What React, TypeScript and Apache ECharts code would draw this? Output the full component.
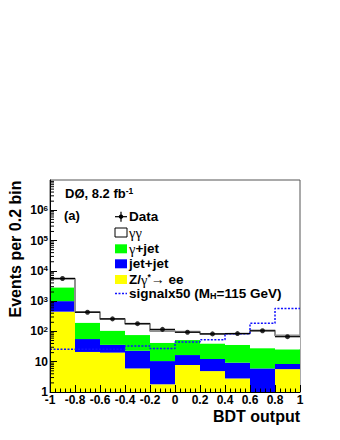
import React, { useEffect, useRef } from "react";
import * as echarts from "echarts";

const binEdges = [-1, -0.8, -0.6, -0.4, -0.2, 0, 0.2, 0.4, 0.6, 0.8, 1];
const zee = [450, 21, 20, 6, 1.8, 7.8, 4.9, 2.8, 0.8, 5.7];
const jetjet = [550, 35, 16, 17, 8.7, 8.8, 7.4, 6.5, 5.2, 2.7];
const gammaJet = [1850, 138, 70, 53, 31.5, 35.4, 27.7, 26.7, 22, 17.3];
const diphoton = [2650, 246, 149, 102, 61, 45, 42, 50, 80, 48];
const dataCounts = [5600, 430, 260, 180, 117, 94, 83, 85, 105, 67];
const signal50 = [26, 26, 26, 33, 27.5, 45, 53, 84, 185, 576];

const yMin = 1;
const yMax = 1e7;

const FONT = "'Liberation Sans', Arial, Helvetica, sans-serif";
const SERIF = "'Liberation Serif', 'Times New Roman', serif";

export default function App() {
  const ref = useRef<HTMLDivElement>(null);

  useEffect(() => {
    if (!ref.current) return;
    const chart = echarts.init(ref.current, undefined, { renderer: "svg" });

    const layers = [
      { name: "Z/γ*→ee", values: zee, color: "#ffff00" },
      { name: "jet+jet", values: jetjet, color: "#0000ff" },
      { name: "γ+jet", values: gammaJet, color: "#00ff00" },
      { name: "γγ", values: diphoton, color: "#ffffff" },
    ];
    const nBins = binEdges.length - 1;
    const cum = new Array(nBins).fill(0);
    const layerSeries: any[] = layers.map((layer) => {
      const items = [] as number[][];
      for (let i = 0; i < nBins; i++) {
        const lo = cum[i] === 0 ? yMin : cum[i];
        cum[i] += layer.values[i];
        items.push([binEdges[i], binEdges[i + 1], lo, cum[i]]);
      }
      return {
        type: "custom",
        name: layer.name,
        clip: true,
        z: 2,
        encode: { x: [0, 1], y: [2, 3] },
        data: items,
        renderItem: (params: any, api: any) => {
          const lo = Math.max(api.value(2), yMin);
          const hi = Math.max(api.value(3), yMin);
          const p0 = api.coord([api.value(0), hi]);
          const p1 = api.coord([api.value(1), lo]);
          return {
            type: "rect",
            shape: { x: p0[0], y: p0[1], width: p1[0] - p0[0], height: p1[1] - p0[1] },
            style: { fill: layer.color },
          };
        },
      };
    });

    const total = cum.slice();
    const stepData = (vals: number[]) => {
      const pts = vals.map((v, i) => [binEdges[i], v]);
      pts.push([binEdges[nBins], vals[nBins - 1]]);
      return pts;
    };

    const minorY: number[][] = [];
    for (let k = 0; k < 7; k++) {
      for (let m = 2; m <= 9; m++) minorY.push([binEdges[0], m * Math.pow(10, k)]);
    }

    const centers = dataCounts.map((v, i) => [(binEdges[i] + binEdges[i + 1]) / 2, v]);
    const dataBars = dataCounts.map((v, i) => [binEdges[i], binEdges[i + 1], v]);

    const yFmt = (v: number) => {
      const e = Math.round(Math.log10(v));
      if (e === 0) return "1";
      if (e === 1) return "10";
      return "10{sup|" + e + "}";
    };

    const legendRows = [216.7, 232.5, 248.8, 263.8, 279.5, 293.5];
    const lx = 115;
    const tx = 129;
    const richLegend = {
      g: { fontFamily: SERIF, fontSize: 14.5, fontWeight: "normal", fill: "#000" },
      sup: { fontSize: 8.5, fontWeight: "bold", fontFamily: FONT, verticalAlign: "top" },
      sub: { fontSize: 9, fontWeight: "bold", fontFamily: FONT, verticalAlign: "bottom" },
      ar: { fontFamily: SERIF, fontSize: 14, fontWeight: "normal" },
    };
    const legendText = (y: number, text: string) => ({
      type: "text",
      x: tx,
      y,
      style: {
        text,
        fontFamily: FONT,
        fontSize: 13.5,
        fontWeight: "bold",
        fill: "#000",
        textAlign: "left",
        textVerticalAlign: "middle",
        rich: richLegend,
      },
      z: 50,
    });
    const box = (y: number, fill: string, stroke?: string) => ({
      type: "rect",
      shape: { x: lx, y: y - 4.5, width: 12, height: 9 },
      style: { fill, stroke: stroke || null, lineWidth: 1 },
      z: 50,
    });

    const option: any = {
      animation: false,
      backgroundColor: "#ffffff",
      grid: {
        left: 50,
        right: 40,
        top: 180,
        bottom: 48,
        show: true,
        borderColor: "#555",
        borderWidth: 1,
        backgroundColor: "transparent",
      },
      xAxis: {
        type: "value",
        min: -1,
        max: 1,
        interval: 0.2,
        z: 10,
        axisLine: { show: true, onZero: false, lineStyle: { color: "#000", width: 1 } },
        axisTick: { show: true, inside: true, length: 7, lineStyle: { color: "#000" } },
        minorTick: { show: true, splitNumber: 5, length: 3.5, lineStyle: { color: "#000" } },
        splitLine: { show: false },
        axisLabel: {
          margin: 2,
          fontFamily: FONT,
          fontSize: 12,
          fontWeight: "bold",
          color: "#000",
          formatter: (v: number) => String(Math.round(v * 10) / 10),
        },
      },
      yAxis: {
        type: "log",
        logBase: 10,
        min: yMin,
        max: yMax,
        splitNumber: 7,
        z: 10,
        axisLine: { show: true, onZero: false, lineStyle: { color: "#000", width: 1 } },
        axisTick: { show: true, inside: true, length: 7, lineStyle: { color: "#000" } },
        splitLine: { show: false },
        axisLabel: {
          margin: 2,
          showMaxLabel: false,
          fontFamily: FONT,
          fontSize: 12,
          fontWeight: "bold",
          color: "#000",
          formatter: yFmt,
          rich: {
            sup: { fontSize: 8, fontWeight: "bold", fontFamily: FONT, color: "#000", verticalAlign: "top" },
          },
        },
      },
      series: [
        ...layerSeries,
        {
          type: "line",
          name: "MC total",
          step: "end",
          data: stepData(total),
          symbol: "none",
          z: 3,
          lineStyle: { color: "#8f8f8f", width: 2 },
        },
        {
          type: "line",
          name: "signalx50",
          step: "end",
          data: stepData(signal50),
          symbol: "none",
          z: 4,
          lineStyle: { color: "#1010ff", width: 1.5, type: [2, 1.5] },
        },
        {
          type: "custom",
          name: "data x-bars",
          z: 5,
          encode: { x: [0, 1], y: 2 },
          data: dataBars,
          renderItem: (params: any, api: any) => {
            const a = api.coord([api.value(0), api.value(2)]);
            const b = api.coord([api.value(1), api.value(2)]);
            return {
              type: "line",
              shape: { x1: a[0], y1: a[1], x2: b[0], y2: b[1] },
              style: { stroke: "#000", lineWidth: 1.2 },
            };
          },
        },
        {
          type: "scatter",
          name: "Data",
          data: centers,
          symbol: "circle",
          symbolSize: 5,
          z: 6,
          itemStyle: { color: "#000" },
        },
        {
          type: "custom",
          name: "minor y ticks",
          z: 20,
          encode: { x: 0, y: 1 },
          data: minorY,
          renderItem: (params: any, api: any) => {
            const p = api.coord([api.value(0), api.value(1)]);
            return {
              type: "line",
              shape: { x1: p[0], y1: p[1], x2: p[0] + 4, y2: p[1] },
              style: { stroke: "#000", lineWidth: 1 },
            };
          },
        },
      ],
      graphic: [
        {
          type: "text",
          x: 15,
          y: 249,
          rotation: Math.PI / 2,
          style: {
            text: "Events per 0.2 bin",
            fontFamily: FONT,
            fontSize: 16,
            fontWeight: "bold",
            fill: "#000",
            textAlign: "center",
            textVerticalAlign: "middle",
          },
          z: 50,
        },
        {
          type: "text",
          x: 300,
          y: 416,
          style: {
            text: "BDT output",
            fontFamily: FONT,
            fontSize: 16,
            fontWeight: "bold",
            fill: "#000",
            textAlign: "right",
            textVerticalAlign: "middle",
          },
          z: 50,
        },
        {
          type: "text",
          x: 65,
          y: 193,
          style: {
            text: "DØ, 8.2 fb{sup|-1}",
            fontFamily: FONT,
            fontSize: 13,
            fontWeight: "bold",
            fill: "#000",
            textAlign: "left",
            textVerticalAlign: "middle",
            rich: richLegend,
          },
          z: 50,
        },
        {
          type: "text",
          x: 64,
          y: 215.5,
          style: {
            text: "(a)",
            fontFamily: FONT,
            fontSize: 13,
            fontWeight: "bold",
            fill: "#000",
            textAlign: "left",
            textVerticalAlign: "middle",
          },
          z: 50,
        },
        {
          type: "line",
          shape: { x1: lx, y1: legendRows[0], x2: lx + 12, y2: legendRows[0] },
          style: { stroke: "#000", lineWidth: 1.2 },
          z: 50,
        },
        {
          type: "line",
          shape: { x1: lx + 6, y1: legendRows[0] - 5, x2: lx + 6, y2: legendRows[0] + 5 },
          style: { stroke: "#000", lineWidth: 1.2 },
          z: 50,
        },
        {
          type: "circle",
          shape: { cx: lx + 6, cy: legendRows[0], r: 2.2 },
          style: { fill: "#000" },
          z: 51,
        },
        legendText(legendRows[0], "Data"),
        box(legendRows[1], "#ffffff", "#000"),
        legendText(legendRows[1], "{g|γγ}"),
        box(legendRows[2], "#00ff00"),
        legendText(legendRows[2], "{g|γ}+jet"),
        box(legendRows[3], "#0000ff"),
        legendText(legendRows[3], "jet+jet"),
        box(legendRows[4], "#ffff00"),
        legendText(legendRows[4], "Z/{g|γ}{sup|*}{ar|→} ee"),
        {
          type: "line",
          shape: { x1: lx, y1: legendRows[5], x2: lx + 12, y2: legendRows[5] },
          style: { stroke: "#1010ff", lineWidth: 1.5, lineDash: [2, 1.5] },
          z: 50,
        },
        legendText(legendRows[5], "signalx50 (M{sub|H}=115 GeV)"),
      ],
    };

    chart.setOption(option);
    return () => chart.dispose();
  }, []);

  return (
    <div
      ref={ref}
      style={{ position: "fixed", left: 0, top: 0, width: 340, height: 440, background: "#fff" }}
    />
  );
}
